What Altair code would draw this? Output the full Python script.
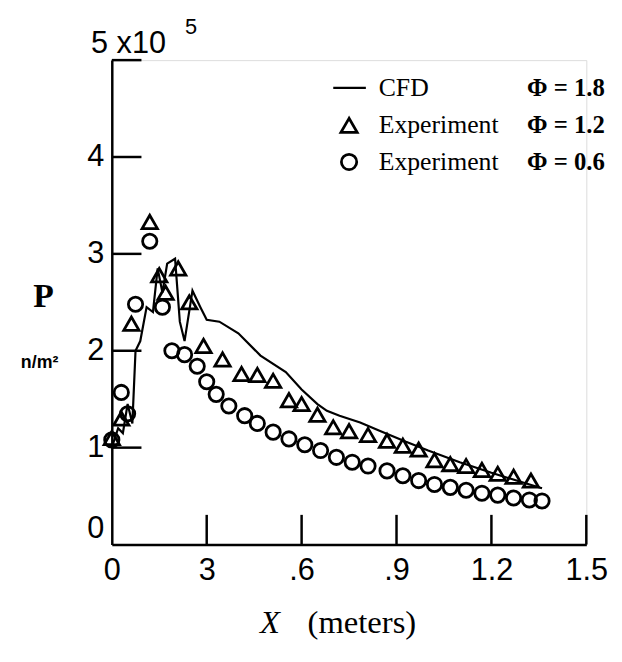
import altair as alt
import pandas as pd

# ---------------- data ----------------
cfd_x = [0.0, 0.02, 0.035, 0.05, 0.065, 0.075, 0.09, 0.11, 0.13, 0.145, 0.16, 0.175,
         0.2, 0.215, 0.23, 0.255, 0.28, 0.30, 0.34, 0.40, 0.47, 0.55, 0.60, 0.65,
         0.68, 0.72, 0.785, 0.85, 0.93, 1.0, 1.1, 1.2, 1.3, 1.36]
cfd_y = [1.0, 1.2, 1.15, 1.45, 1.25, 2.0, 2.1, 2.45, 2.4, 2.85, 2.6, 2.9,
         2.95, 2.3, 2.1, 2.62, 2.45, 2.32, 2.3, 2.18, 1.95, 1.78, 1.6, 1.45,
         1.38, 1.33, 1.26, 1.17, 1.06, 0.97, 0.85, 0.74, 0.64, 0.58]

tri_x = [0.0, 0.03, 0.062, 0.12, 0.15, 0.17, 0.21, 0.245, 0.29, 0.35, 0.41, 0.46,
         0.51, 0.56, 0.60, 0.65, 0.70, 0.75, 0.81, 0.87, 0.92, 0.97, 1.02, 1.07,
         1.12, 1.17, 1.22, 1.27, 1.325]
tri_y = [1.1, 1.3, 2.28, 3.33, 2.78, 2.6, 2.85, 2.5, 2.05, 1.91, 1.76, 1.75,
         1.69, 1.49, 1.45, 1.34, 1.21, 1.17, 1.13, 1.07, 1.02, 0.98, 0.87, 0.83,
         0.81, 0.77, 0.73, 0.70, 0.66]

cir_x = [0.0, 0.03, 0.05, 0.075, 0.12, 0.16, 0.19, 0.23, 0.27, 0.30, 0.33, 0.37,
         0.42, 0.46, 0.51, 0.56, 0.61, 0.66, 0.71, 0.76, 0.81, 0.87, 0.92, 0.97,
         1.02, 1.07, 1.12, 1.17, 1.22, 1.27, 1.32, 1.36]
cir_y = [1.08, 1.57, 1.35, 2.48, 3.13, 2.45, 2.0, 1.96, 1.84, 1.68, 1.55, 1.43,
         1.33, 1.25, 1.16, 1.09, 1.03, 0.97, 0.90, 0.85, 0.81, 0.76, 0.71, 0.66,
         0.62, 0.59, 0.56, 0.53, 0.51, 0.48, 0.46, 0.45]

x_tick_values = [0, 0.3, 0.6, 0.9, 1.2, 1.5]
x_tick_labels = ["0", "3", ".6", ".9", "1.2", "1.5"]
y_tick_values = [0, 1, 2, 3, 4, 5]
y_tick_labels = ["0", "1", "2", "3", "4", ""]
x_inner_ticks = [0.3, 0.6, 0.9, 1.2, 1.5]
y_inner_ticks = [1, 2, 3, 4, 5]

legend_names = ["CFD", "Experiment", "Experiment"]
legend_phi = ["\u03a6 = 1.8", "\u03a6 = 1.2", "\u03a6 = 0.6"]

y_top_label = "5 x10"
y_top_exp = "5"
y_title = "P"
y_units = "n/m\u00b2"
x_title_var = "X"
x_title_unit = "(meters)"

# ---------------- layout ----------------
W, H = 480, 490
SANS = "Liberation Sans"
SERIF = "Liberation Serif"


def label_expr(values, labels):
    expr = "''"
    for v, l in reversed(list(zip(values, labels))):
        expr = f"datum.value == {v} ? '{l}' : ({expr})"
    return expr


xs = alt.Scale(domain=[0, 1.5], nice=False, zero=False)
ys = alt.Scale(domain=[0, 5], nice=False, zero=False)

x_axis = alt.Axis(values=x_tick_values, labelExpr=label_expr(x_tick_values, x_tick_labels),
                  ticks=False, grid=False, title=None, domainColor="black", domainWidth=2.5,
                  labelFont=SANS, labelFontSize=31, labelColor="black", labelPadding=11,
                  labelFlush=False, labelOverlap=False)
y_axis = alt.Axis(values=y_tick_values, labelExpr=label_expr(y_tick_values, y_tick_labels),
                  ticks=False, grid=False, title=None, domainColor="black", domainWidth=2.5,
                  labelFont=SANS, labelFontSize=31, labelColor="black", labelPadding=8,
                  labelFlush=True, labelOverlap=False)

cfd_df = pd.DataFrame({"x": cfd_x, "y": cfd_y})
tri_df = pd.DataFrame({"x": tri_x, "y": tri_y})
cir_df = pd.DataFrame({"x": cir_x, "y": cir_y})

base_axes = alt.Chart(pd.DataFrame({"x": [0], "y": [0]})).mark_point(opacity=0).encode(
    x=alt.X("x:Q", scale=xs, axis=x_axis),
    y=alt.Y("y:Q", scale=ys, axis=y_axis),
)

line = alt.Chart(cfd_df).mark_line(color="black", strokeWidth=2.2).encode(
    x=alt.X("x:Q", scale=xs), y=alt.Y("y:Q", scale=ys))

tris = alt.Chart(tri_df).mark_point(shape="triangle-up", filled=False, color="black",
                                    strokeWidth=2.8, size=240, opacity=1).encode(
    x=alt.X("x:Q", scale=xs), y=alt.Y("y:Q", scale=ys))

circs = alt.Chart(cir_df).mark_point(shape="circle", filled=False, color="black",
                                     strokeWidth=2.8, size=210, opacity=1).encode(
    x=alt.X("x:Q", scale=xs), y=alt.Y("y:Q", scale=ys))

xt = alt.Chart(pd.DataFrame({"x": x_inner_ticks})).mark_rule(color="black", strokeWidth=2.5).encode(
    x=alt.X("x:Q", scale=xs), y=alt.value(H), y2=alt.value(H - 30))
yt = alt.Chart(pd.DataFrame({"y": y_inner_ticks})).mark_rule(color="black", strokeWidth=2.5).encode(
    y=alt.Y("y:Q", scale=ys), x=alt.value(0), x2=alt.value(30))


def txt(s, x, y, size, font, weight="normal", align="left", baseline="middle", style="normal"):
    return alt.Chart(pd.DataFrame({"t": [s]})).mark_text(
        fontSize=size, font=font, fontWeight=weight, align=align, baseline=baseline,
        color="black", fontStyle=style).encode(text="t:N", x=alt.value(x), y=alt.value(y))


texts = [
    txt(y_top_label, -21, -16, 31, SANS),
    txt(y_top_exp, 74, -33, 22, SANS),
    txt(y_title, -69, 240, 34, SERIF, weight="bold", align="center"),
    txt(y_units, -73, 306, 18, SANS, weight="bold", align="center"),
    txt(x_title_var, 160, H + 80, 33, SERIF, align="center", style="italic"),
    txt(x_title_unit, 198, H + 80, 33, SERIF, align="left"),
]

leg_rows = [28, 66, 103]
legend_layers = []
for i, (nm, ph) in enumerate(zip(legend_names, legend_phi)):
    legend_layers.append(txt(nm, 270, leg_rows[i], 26, SERIF))
    legend_layers.append(txt(ph, 420, leg_rows[i], 25, SERIF, weight="bold"))

leg_line = alt.Chart(pd.DataFrame({"k": ["CFD"]})).mark_rule(color="black", strokeWidth=2.2).encode(
    x=alt.value(224), x2=alt.value(257), y=alt.value(leg_rows[0]))
leg_tri = alt.Chart(pd.DataFrame({"k": ["tri"]})).mark_point(
    shape="triangle-up", filled=False, color="black", strokeWidth=2.8, size=270, opacity=1).encode(
    x=alt.value(240), y=alt.value(leg_rows[1]))
leg_cir = alt.Chart(pd.DataFrame({"k": ["cir"]})).mark_point(
    shape="circle", filled=False, color="black", strokeWidth=2.8, size=240, opacity=1).encode(
    x=alt.value(240), y=alt.value(leg_rows[2]))

chart = alt.layer(base_axes, xt, yt, line, tris, circs, *texts, *legend_layers,
                  leg_line, leg_tri, leg_cir).properties(
    width=W, height=H,
    padding={"left": 105, "top": 49, "right": 28, "bottom": 105},
    autosize=alt.AutoSizeParams(type="none"),
).configure_view(stroke=None).configure(background="white")

chart.save("out.html", embed_options={"renderer": "svg", "actions": False})
